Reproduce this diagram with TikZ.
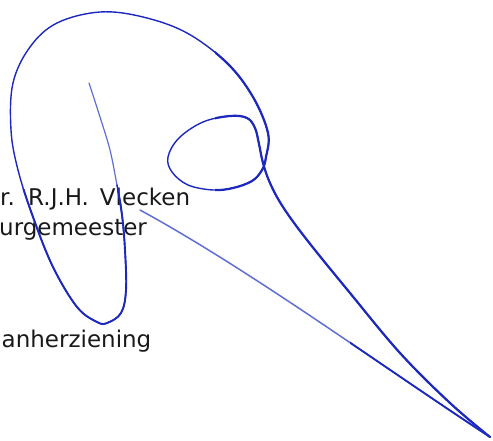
\documentclass[tikz,border=0pt]{standalone}
\usepackage{fontspec}
\newfontfamily\vfont[WordSpace=1.5]{DejaVu Sans}
\definecolor{inkdark}{RGB}{28,40,190}
\definecolor{inklight}{RGB}{95,110,210}
\definecolor{txt}{RGB}{25,25,25}
\begin{document}
\begin{tikzpicture}[x=1pt,y=-1pt,
  label/.style={anchor=base west,inner sep=0pt,text=txt,font=\vfont\fontsize{23}{27}\selectfont},
  ink/.style={draw=inkdark,line width=1.4pt,line cap=round,line join=round},
  inkthin/.style={draw=inklight,line width=1.2pt,line cap=round,line join=round}]
\useasboundingbox (0,0) rectangle (493,441);
% texts
\node[label] (name) at (0,206) {r. R.J.H. Vlecken};
\node[label] (role) at (-1,235) {urgemeester};
\node[label] (plan) at (1.5,347) {anherziening};
% signature: thin first stroke
\draw[inkthin] plot[smooth,tension=0.6] coordinates {(89,83) (100,117) (110,150) (117,185) (121,205)};
% main stroke, saved once and drawn with varying weight
\path[save path=\sig] plot[smooth,tension=0.6] coordinates {(117,185) (122,215) (125,250) (126,290) (121,313) (107,323) (97,322) (77,307) (53,267) (33,217) (18,170) (11,130) (13,83) (30,47) (57,23) (100,12) (143,17) (187,33) (227,63) (253,97) (268,133) (266,157) (262,170) (252,181) (233,188) (213,190) (188,185) (172,172) (168,157) (179,138) (203,122) (230,116) (247,118) (255,128) (259,144) (263,163) (270,183) (283,207) (307,240) (350,293) (400,353) (450,403) (490,437)};
\draw[ink,use path=\sig];
\begin{scope}
  \clip (0,190) rectangle (140,441);
  \draw[ink,line width=1.9pt,use path=\sig];
\end{scope}
\begin{scope}
  \clip (215,0) rectangle (493,441);
  \draw[ink,line width=2.2pt,use path=\sig];
\end{scope}
% returning stroke
\path[save path=\ret] (490,437) .. controls (380,365) and (250,270) .. (140,210);
\draw[draw=inklight,line width=1.5pt,line cap=round,use path=\ret];
\begin{scope}
  \clip (350,0) rectangle (493,441);
  \draw[draw=inkdark,line width=1.8pt,line cap=round,use path=\ret];
\end{scope}
\end{tikzpicture}
\end{document}
